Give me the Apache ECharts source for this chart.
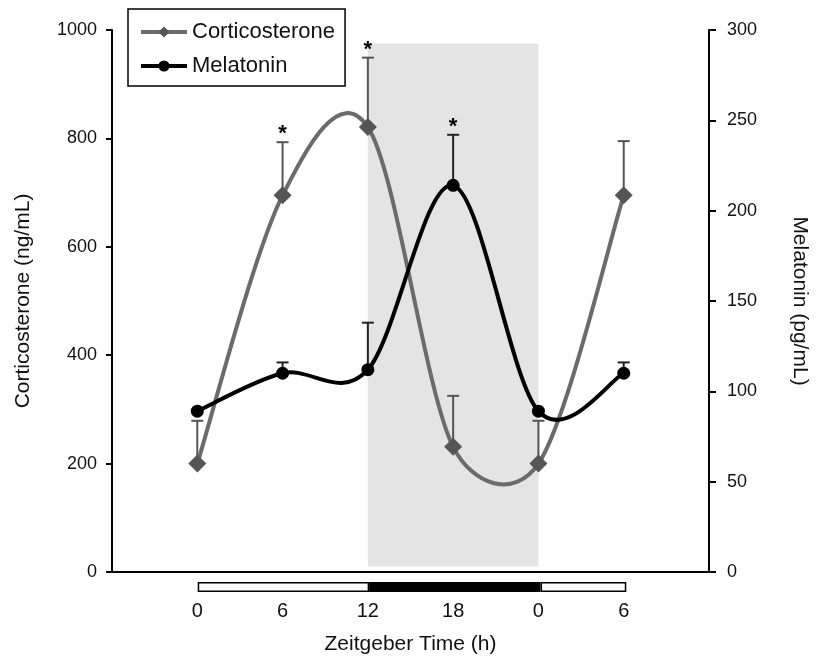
<!DOCTYPE html>
<html>
<head>
<meta charset="utf-8">
<script src="https://cdn.jsdelivr.net/npm/echarts@6/dist/echarts.min.js"></script>
<style>
  html, body { margin: 0; padding: 0; background: #fff; }
  #chart { width: 818px; height: 662px; }
</style>
</head>
<body>
<div id="chart"></div>
<script>
// zeitgeber hours, second day shown as 0 / 6 again
const hours = [0, 6, 12, 18, 24, 30]
const cort = [200, 695, 821, 231, 200, 695]
const cortErr = [79, 98, 128, 94, 79, 100]
const cortStar = [false, true, true, false, false, false]
const mel = [89, 110, 112, 214, 89, 110]
const melErr = [0, 6, 26, 28, 0, 6]
const melStar = [false, false, false, true, false, false]
// light / dark / light phases (hours)
const ldPhases = [12, 12, 6]

const FONT = 'Liberation Sans, Arial, sans-serif'
const CORT_COLOR = '#6b6b6b'
const MEL_COLOR = '#000'

const chart = echarts.init(document.getElementById('chart'))

// control point offset like a spreadsheet smoothed line:
// (next - prev) / 6, capped at half of the segment length
const ctrl = (a, b, segLen) => {
  let dx = (b[0] - a[0]) / 6
  let dy = (b[1] - a[1]) / 6
  const len = Math.hypot(dx, dy)
  if (len > segLen / 2 && len > 0) {
    const k = segLen / 2 / len
    dx *= k
    dy *= k
  }
  return [dx, dy]
}

const curveSeries = (name, vals, yIdx, color, z) => ({
  name: name + ' curve',
  type: 'custom',
  xAxisIndex: 0,
  yAxisIndex: yIdx,
  z: z,
  silent: true,
  data: hours.map((h, i) => [h, vals[i]]),
  renderItem: (params, api) => {
    const i = params.dataIndex
    if (i >= hours.length - 1) return null
    const pt = j => api.coord([hours[j], vals[j]])
    const p0 = pt(Math.max(i - 1, 0))
    const p1 = pt(i)
    const p2 = pt(i + 1)
    const p3 = pt(Math.min(i + 2, hours.length - 1))
    const seg = Math.hypot(p2[0] - p1[0], p2[1] - p1[1])
    const c1 = ctrl(p0, p2, seg)
    const c2 = ctrl(p1, p3, seg)
    return {
      type: 'bezierCurve',
      shape: {
        x1: p1[0], y1: p1[1],
        cpx1: p1[0] + c1[0], cpy1: p1[1] + c1[1],
        cpx2: p2[0] - c2[0], cpy2: p2[1] - c2[1],
        x2: p2[0], y2: p2[1]
      },
      style: { stroke: color, lineWidth: 4, fill: null }
    }
  }
})

const errorSeries = (name, vals, errs, stars, yIdx, color, z) => ({
  name: name + ' error',
  type: 'custom',
  xAxisIndex: 0,
  yAxisIndex: yIdx,
  z: z,
  silent: true,
  data: hours.map((h, i) => [h, vals[i], vals[i] + errs[i], stars[i] ? 1 : 0]),
  renderItem: (params, api) => {
    const lo = api.coord([api.value(0), api.value(1)])
    const hi = api.coord([api.value(0), api.value(2)])
    if (api.value(2) === api.value(1)) return null
    const children = [
      { type: 'line', shape: { x1: lo[0], y1: lo[1], x2: hi[0], y2: hi[1] }, style: { stroke: color, lineWidth: 2 } },
      { type: 'line', shape: { x1: hi[0] - 6, y1: hi[1], x2: hi[0] + 6, y2: hi[1] }, style: { stroke: color, lineWidth: 2 } }
    ]
    if (api.value(3)) {
      children.push({
        type: 'text',
        style: {
          text: '*', x: hi[0], y: hi[1] + 3,
          align: 'center', verticalAlign: 'bottom',
          font: 'bold 22px ' + FONT, fill: '#000'
        }
      })
    }
    return { type: 'group', children }
  }
})

const option = {
  animation: false,
  backgroundColor: '#fff',
  textStyle: { fontFamily: FONT },
  legend: {
    orient: 'vertical',
    left: 128,
    top: 9,
    padding: [12, 10, 9, 11],
    itemGap: 12,
    itemWidth: 46,
    itemHeight: 14,
    backgroundColor: '#fff',
    borderColor: '#000',
    borderWidth: 1.5,
    borderRadius: 0,
    textStyle: { fontSize: 22, color: '#111', lineHeight: 22, fontFamily: FONT },
    lineStyle: { opacity: 1 },
    data: [
      { name: 'Corticosterone', lineStyle: { opacity: 1, width: 4, color: CORT_COLOR } },
      { name: 'Melatonin', lineStyle: { opacity: 1, width: 4, color: MEL_COLOR } }
    ]
  },
  grid: [
    { left: 112, right: 106, top: 30, bottom: 90 },
    { left: 112, right: 106, top: 582, height: 10 }
  ],
  xAxis: [
    {
      type: 'value',
      gridIndex: 0,
      min: -6,
      max: 36,
      interval: 6,
      name: 'Zeitgeber Time (h)',
      nameLocation: 'middle',
      nameGap: 62,
      nameTextStyle: { fontSize: 21, color: '#111', fontFamily: FONT },
      axisLine: { onZero: false, lineStyle: { color: '#000', width: 2 } },
      axisTick: { show: false },
      splitLine: { show: false },
      axisLabel: {
        fontSize: 20,
        color: '#111',
        margin: 29,
        formatter: v => (v < 0 || v > 30) ? '' : String(v % 24)
      }
    },
    {
      type: 'value',
      gridIndex: 1,
      min: -6,
      max: 36,
      show: false
    }
  ],
  yAxis: [
    {
      type: 'value',
      gridIndex: 0,
      min: 0,
      max: 1000,
      interval: 200,
      name: 'Corticosterone (ng/mL)',
      nameLocation: 'middle',
      nameGap: 78,
      nameTextStyle: { fontSize: 21, color: '#111', fontFamily: FONT },
      axisLine: { show: true, onZero: false, lineStyle: { color: '#000', width: 2 } },
      axisTick: { show: true, length: 6, lineStyle: { color: '#000', width: 2 } },
      splitLine: { show: false },
      axisLabel: { fontSize: 18, color: '#111', margin: 15, formatter: v => String(v) }
    },
    {
      type: 'value',
      gridIndex: 0,
      position: 'right',
      min: 0,
      max: 300,
      interval: 50,
      name: 'Melatonin (pg/mL)',
      nameLocation: 'middle',
      nameRotate: -90,
      nameGap: 80,
      nameTextStyle: { fontSize: 21, color: '#111', fontFamily: FONT },
      axisLine: { show: true, onZero: false, lineStyle: { color: '#000', width: 2 } },
      axisTick: { show: true, length: 7, lineStyle: { color: '#000', width: 2 } },
      splitLine: { show: false },
      axisLabel: { fontSize: 18, color: '#111', margin: 18, formatter: v => String(v) }
    },
    {
      type: 'category',
      gridIndex: 1,
      data: ['LD'],
      show: false
    }
  ],
  series: [
    {
      name: 'dark phase',
      type: 'line',
      xAxisIndex: 0,
      yAxisIndex: 0,
      z: 1,
      data: [],
      markArea: {
        silent: true,
        itemStyle: { color: '#e4e4e4' },
        data: [[{ xAxis: 12, yAxis: 10 }, { xAxis: 24, yAxis: 975 }]]
      }
    },
    curveSeries('Corticosterone', cort, 0, CORT_COLOR, 2),
    errorSeries('Corticosterone', cort, cortErr, cortStar, 0, '#555', 2),
    curveSeries('Melatonin', mel, 1, MEL_COLOR, 3),
    errorSeries('Melatonin', mel, melErr, melStar, 1, '#222', 3),
    {
      name: 'Corticosterone',
      type: 'line',
      xAxisIndex: 0,
      yAxisIndex: 0,
      z: 5,
      data: hours.map((h, i) => [h, cort[i]]),
      symbol: 'diamond',
      symbolSize: 18,
      itemStyle: { color: '#555' },
      lineStyle: { color: CORT_COLOR, width: 4, opacity: 0 }
    },
    {
      name: 'Melatonin',
      type: 'line',
      xAxisIndex: 0,
      yAxisIndex: 1,
      z: 5,
      data: hours.map((h, i) => [h, mel[i]]),
      symbol: 'circle',
      symbolSize: 13,
      itemStyle: { color: '#000' },
      lineStyle: { color: MEL_COLOR, width: 4, opacity: 0 }
    },
    ...ldPhases.map((len, i) => ({
      name: 'phase' + i,
      type: 'bar',
      xAxisIndex: 1,
      yAxisIndex: 2,
      stack: 'ld',
      barWidth: '100%',
      silent: true,
      data: [len],
      itemStyle: { color: i === 1 ? '#000' : '#fff', borderColor: '#000', borderWidth: 1.5 }
    }))
  ]
}

chart.setOption(option)
</script>
</body>
</html>
